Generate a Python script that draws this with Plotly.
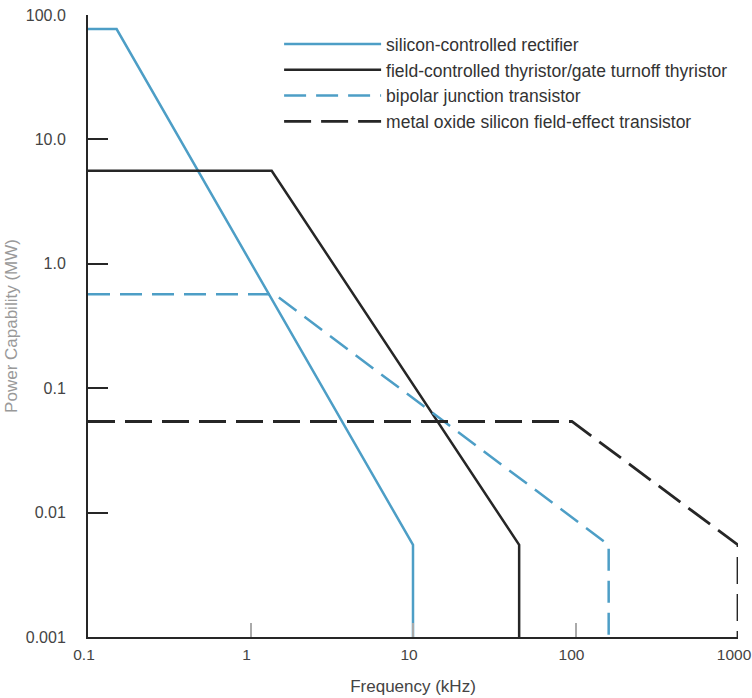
import plotly.graph_objects as go

# Data (frequency in kHz, power in MW)
scr_x = [0.1, 0.15, 10, 10]
scr_y = [77, 77, 0.0055, 0.001]

gto_x = [0.1, 1.35, 45, 45]
gto_y = [5.6, 5.6, 0.0055, 0.001]

bjt_x = [0.1, 1.4, 160, 160]
bjt_y = [0.57, 0.57, 0.0055, 0.001]

mos_x = [0.1, 95, 1000, 1000]
mos_y = [0.054, 0.054, 0.0055, 0.001]

x_ticks = [0.1, 1, 10, 100, 1000]
x_labels = ["0.1", "1", "10", "100", "1000"]
y_ticks = [0.001, 0.01, 0.1, 1, 10, 100]
y_labels = ["0.001", "0.01", "0.1", "1.0", "10.0", "100.0"]

BLUE = "#4d9ec6"
BLACK = "#262626"
FONT = "Liberation Sans"

fig = go.Figure()
fig.add_trace(go.Scatter(x=scr_x, y=scr_y, mode="lines", name="silicon-controlled rectifier",
                         line=dict(color=BLUE, width=2.5)))
fig.add_trace(go.Scatter(x=gto_x, y=gto_y, mode="lines",
                         name="field-controlled thyristor/gate turnoff thyristor",
                         line=dict(color=BLACK, width=2.5)))
fig.add_trace(go.Scatter(x=bjt_x, y=bjt_y, mode="lines", name="bipolar junction transistor",
                         line=dict(color=BLUE, width=2.5, dash="22px,10px")))
fig.add_trace(go.Scatter(x=mos_x, y=mos_y, mode="lines",
                         name="metal oxide silicon field-effect transistor",
                         line=dict(color=BLACK, width=2.8, dash="27px,10px")))

fig.update_traces(cliponaxis=False)

fig.update_layout(
    width=752, height=698,
    margin=dict(l=88, r=14, t=15, b=61),
    paper_bgcolor="white", plot_bgcolor="white",
    font=dict(family=FONT, color="#444", size=15),
    showlegend=True,
    legend=dict(x=0.294, y=0.982, xanchor="left", yanchor="top",
                font=dict(family=FONT, size=17.5, color="#333"),
                itemwidth=97, tracegroupgap=0, bgcolor="rgba(0,0,0,0)"),
    xaxis=dict(type="log", range=[-1, 3], tickvals=x_ticks, ticktext=x_labels,
               showgrid=False, zeroline=False, showline=True, linecolor=BLACK, linewidth=2,
               ticks="inside", ticklen=14, tickcolor="#aaa", tickwidth=2,
               tickfont=dict(size=15.5, color="#444"), ticklabelstandoff=2,
               ticklabelshift=-4,
               ticklabeloverflow="allow", automargin=False,
               title=dict(text="Frequency (kHz)", font=dict(size=17, color="#444"), standoff=19)),
    yaxis=dict(type="log", range=[-3, 2], tickvals=y_ticks, ticktext=y_labels,
               showgrid=False, zeroline=False, showline=True, linecolor=BLACK, linewidth=2,
               ticks="inside", ticklen=20, tickcolor=BLACK, tickwidth=1.5,
               tickfont=dict(size=16, color="#444"), ticklabelstandoff=17,
               ticklabeloverflow="allow", automargin=False,
               title=dict(text="Power Capability (MW)", font=dict(size=17, color="#999"), standoff=4)),
)

fig.write_html("out.html", config={"displayModeBar": False},
               post_script="document.body.style.margin='0';")
